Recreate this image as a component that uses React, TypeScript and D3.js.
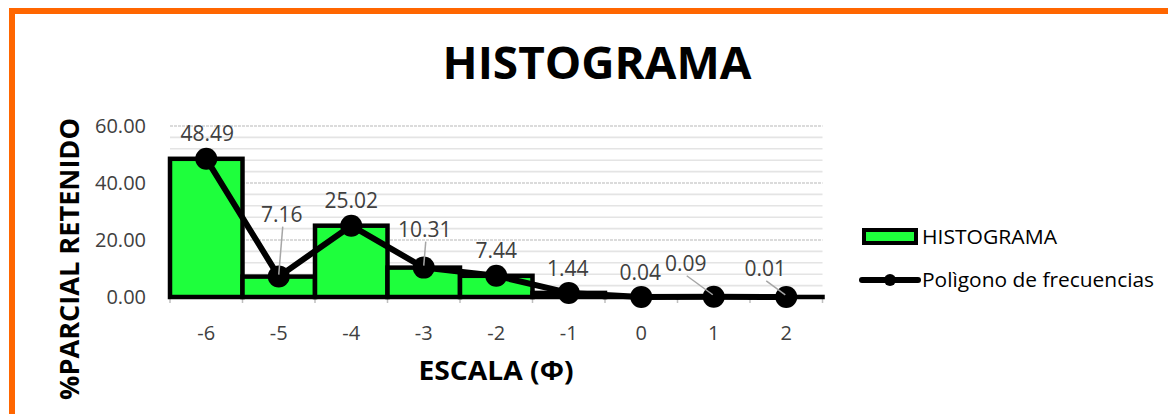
import React from "react";
import * as d3 from "d3";

const categories = ["-6", "-5", "-4", "-3", "-2", "-1", "0", "1", "2"];
const values = [48.49, 7.16, 25.02, 10.31, 7.44, 1.44, 0.04, 0.09, 0.01];
const labelTexts = ["48.49", "7.16", "25.02", "10.31", "7.44", "1.44", "0.04", "0.09", "0.01"];
const yTicks = [0, 20, 40, 60];
const minorTicks = d3.range(0, 61, 4);

// label offsets (dx, dy relative to point) and leader lines
const labelOffsets: [number, number, boolean][] = [
  [1, -25, false],
  [3, -62, true],
  [0, -25, false],
  [1, -38, true],
  [0, -25, false],
  [-1, -24, false],
  [-1, -24, false],
  [-28, -33, true],
  [-21, -28, true],
];

const W = 1168;
const H = 414;
const FONT = "'Open Sans', 'Noto Sans', sans-serif";

export default function App() {
  const x = d3.scaleBand<string>().domain(categories).range([170, 822.5]).padding(0);
  const y = d3.scaleLinear().domain([0, 60]).range([297, 126]);
  const bw = x.bandwidth();
  const cx = (c: string) => (x(c) as number) + bw / 2;

  const line = d3
    .line<number>()
    .x((_, i) => cx(categories[i]))
    .y((d) => y(d));

  return (
    <div style={{ position: "absolute", left: 0, top: 0 }}>
      <svg width={W} height={H} style={{ display: "block", background: "#fff" }}>
        {/* frame */}
        <rect x={12} y={11} width={W + 20} height={H + 20} fill="none" stroke="#ff6600" strokeWidth={6} />

        {/* title */}
        <text x={597} y={79} textAnchor="middle" fontFamily={FONT} fontWeight={700} fontSize={45} textLength={309} lengthAdjust="spacingAndGlyphs" fill="#000">
          HISTOGRAMA
        </text>

        {/* gridlines */}
        {minorTicks.map((t) => (
          <line key={"m" + t} x1={170} x2={822.5} y1={y(t)} y2={y(t)} stroke={t % 20 === 0 ? "#d0d0d0" : "#e4e4e4"} strokeWidth={1.6} strokeDasharray={t % 20 === 0 ? "3,1" : undefined} />
        ))}

        {/* y tick labels */}
        {yTicks.map((t) => (
          <text key={"yt" + t} x={146} y={y(t)} dy="0.35em" textAnchor="end" fontFamily={FONT} fontSize={20} fill="#404040">
            {t.toFixed(2)}
          </text>
        ))}

        {/* axis line & ticks */}
        <line x1={170} x2={822.5} y1={y(0)} y2={y(0)} stroke="#bfbfbf" strokeWidth={1.5} />
        {d3.range(categories.length + 1).map((i) => (
          <line key={"tk" + i} x1={170 + i * bw} x2={170 + i * bw} y1={y(0)} y2={y(0) + 6} stroke="#bfbfbf" strokeWidth={1.5} />
        ))}

        {/* bars */}
        {values.map((v, i) => (
          <rect key={"b" + i} x={x(categories[i])} y={y(v)} width={bw} height={y(0) - y(v)} fill="#1eff3c" stroke="#000" strokeWidth={4.5} />
        ))}

        {/* polygon */}
        <path d={line(values) || ""} fill="none" stroke="#000" strokeWidth={6} strokeLinejoin="round" />
        {values.map((v, i) => (
          <circle key={"c" + i} cx={cx(categories[i])} cy={y(v)} r={11} fill="#000" />
        ))}

        {/* data labels */}
        {values.map((v, i) => {
          const [dx, dy, leader] = labelOffsets[i];
          const px = cx(categories[i]);
          const py = y(v);
          const lx = px + dx;
          const ly = py + dy;
          return (
            <g key={"l" + i}>
              {leader && (
                <line
                  x1={lx + 1}
                  y1={ly + 12}
                  x2={px + (dx < -5 ? -1 : 0)}
                  y2={py - 2}
                  stroke="#a6a6a6"
                  strokeWidth={1.5}
                />
              )}
              <text x={lx} y={ly} dy="0.35em" textAnchor="middle" fontFamily={FONT} fontSize={21} fill="#404040">
                {labelTexts[i]}
              </text>
            </g>
          );
        })}

        {/* x tick labels */}
        {categories.map((c) => (
          <text key={"xt" + c} x={cx(c)} y={333} dy="0.35em" textAnchor="middle" fontFamily={FONT} fontSize={20} fill="#404040">
            {c}
          </text>
        ))}

        {/* axis titles */}
        <text x={496} y={380} textAnchor="middle" fontFamily={FONT} fontWeight={700} fontSize={26} textLength={155} lengthAdjust="spacingAndGlyphs" fill="#000">
          ESCALA (Φ)
        </text>
        <text transform="translate(79,259) rotate(-90)" textAnchor="middle" fontFamily={FONT} fontWeight={700} fontSize={26} textLength={282} lengthAdjust="spacingAndGlyphs" fill="#000">
          %PARCIAL RETENIDO
        </text>

        {/* legend */}
        <rect x={864} y={230} width={52} height={13} fill="#1eff3c" stroke="#000" strokeWidth={4} />
        <text x={922} y={237} dy="0.35em" fontFamily={FONT} fontSize={20} textLength={135} lengthAdjust="spacingAndGlyphs" fill="#000">
          HISTOGRAMA
        </text>
        <line x1={862} x2={918} y1={280} y2={280} stroke="#000" strokeWidth={6} strokeLinecap="round" />
        <circle cx={890} cy={280} r={6} fill="#000" />
        <text x={922} y={280} dy="0.35em" fontFamily={FONT} fontSize={20} textLength={232} lengthAdjust="spacingAndGlyphs" fill="#000">
          Polìgono de frecuencias
        </text>
      </svg>
    </div>
  );
}
